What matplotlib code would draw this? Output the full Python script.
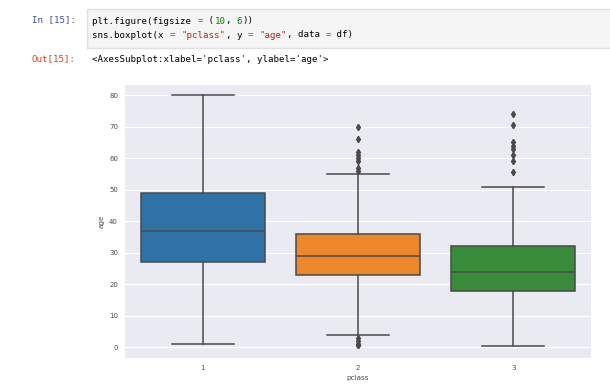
import matplotlib
matplotlib.use("Agg")
import matplotlib.pyplot as plt
import seaborn as sns

# ---- data ----
classes = ["1", "2", "3"]
q1 = [27.0, 23.0, 18.0]
median = [37.0, 29.0, 24.0]
q3 = [49.0, 36.0, 32.0]
whisk_lo = [0.92, 4.0, 0.42]
whisk_hi = [80.0, 55.0, 51.0]
fliers_1 = []
fliers_2 = [0.67, 0.83, 1.0, 2.0, 3.0, 56.0, 57.0, 59.0, 60.0, 61.0, 62.0, 66.0, 70.0]
fliers_3 = [55.5, 59.0, 61.0, 63.0, 64.0, 65.0, 70.5, 74.0]
yticks = [0, 10, 20, 30, 40, 50, 60, 70, 80]
box_colors = ["#2f72a6", "#ec872b", "#388c3a"]

code_line1 = [("plt.figure(figsize ", "#000000"), ("=", "#aa22ff"), (" (", "#000000"),
              ("10", "#008800"), (", ", "#000000"), ("6", "#008800"), ("))", "#000000")]
code_line2 = [("sns.boxplot(x ", "#000000"), ("=", "#aa22ff"), (" ", "#000000"),
              ('"pclass"', "#ba2121"), (", y ", "#000000"), ("=", "#aa22ff"), (" ", "#000000"),
              ('"age"', "#ba2121"), (", data ", "#000000"), ("=", "#aa22ff"), (" df)", "#000000")]
out_text = "<AxesSubplot:xlabel='pclass', ylabel='age'>"

W, H = 610, 388
fig = plt.figure(figsize=(W / 100, H / 100), dpi=100)
fig.patch.set_facecolor("white")

def px(x, y):
    return x / W, 1 - y / H

# ---- notebook cell chrome ----
cell = plt.Rectangle(px(87, 48), (W - 87 + 5) / W, 39 / H, transform=fig.transFigure,
                     facecolor="#f5f5f5", edgecolor="#e0e0e0", lw=1.0)
fig.patches.append(cell)

mono = "DejaVu Sans Mono"
fs_code = 6.6
cw = fs_code / 72 * 100 * 0.6021 + 0.05  # px per character (+ tiny gap)

fig.text(*px(32, 20), "In [15]:", family=mono, fontsize=fs_code, color="#3f4f9f", va="center")
fig.text(*px(32, 59), "Out[15]:", family=mono, fontsize=fs_code, color="#d84315", va="center")

def draw_line(segs, x0, y):
    x = x0
    for s, c in segs:
        fig.text(*px(x, y), s, family=mono, fontsize=fs_code, color=c, va="center")
        x += len(s) * cw

draw_line(code_line1, 92, 21)
draw_line(code_line2, 92, 35)
fig.text(*px(92, 59), out_text, family=mono, fontsize=fs_code, color="#000000", va="center")

# ---- chart ----
ax = fig.add_axes([125 / W, 1 - 358 / H, 466 / W, (358 - 84.5) / H])
ax.set_facecolor("#eaeaf2")
for s in ax.spines.values():
    s.set_visible(False)
ax.grid(True, axis="y", color="white", lw=0.9)
ax.set_axisbelow(True)

stats = []
fl = [fliers_1, fliers_2, fliers_3]
for i in range(3):
    stats.append(dict(med=median[i], q1=q1[i], q3=q3[i], whislo=whisk_lo[i],
                      whishi=whisk_hi[i], fliers=fl[i], label=classes[i]))

line_c = "#4a4a4a"
bp = ax.bxp(stats, positions=range(3), widths=0.8, patch_artist=True,
            boxprops=dict(edgecolor=line_c, lw=1.1),
            medianprops=dict(color=line_c, lw=1.1),
            whiskerprops=dict(color=line_c, lw=1.1),
            capprops=dict(color=line_c, lw=1.1),
            capwidths=0.4,
            flierprops=dict(marker="d", markerfacecolor=line_c, markeredgecolor=line_c,
                            markersize=3.2))
for patch, c in zip(bp["boxes"], box_colors):
    patch.set_facecolor(c)

ax.set_xlim(-0.5, 2.5)
ax.set_ylim(-3.4, 83.4)
ax.set_yticks(yticks)
ax.set_xticks(range(3))
ax.set_xticklabels(classes)
ax.tick_params(length=0, labelsize=5.0, labelcolor="#4a4a4a", pad=5)
ax.set_xlabel("pclass", fontsize=5.2, color="#4a4a4a", labelpad=3)
ax.set_ylabel("age", fontsize=5.2, color="#4a4a4a", labelpad=3)

fig.savefig("out.png", dpi=100)
